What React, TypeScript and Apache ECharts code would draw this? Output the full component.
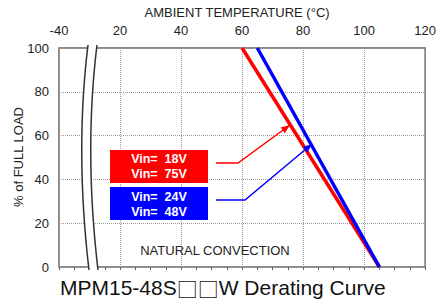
import React, { useEffect, useRef } from "react";
import * as echarts from "echarts";

// ---- data ----
const xTickValues = [0, 20, 40, 60, 80, 100, 120];
const xTickLabels = ["-40", "20", "40", "60", "80", "100", "120"];
const yTickValues = [0, 20, 40, 60, 80, 100];
const redCurve: [number, number][] = [
  [60, 100],
  [105, 0],
];
const blueCurve: [number, number][] = [
  [65, 100],
  [105, 0],
];
const redLegendLines = ["Vin=  18V", "Vin=  75V"];
const blueLegendLines = ["Vin=  24V", "Vin=  48V"];
const xAxisTitle = "AMBIENT TEMPERATURE (°C)";
const yAxisTitle = "% of FULL LOAD";
const noteText = "NATURAL CONVECTION";
const titleParts = ["MPM15-48S", "□□", "W Derating Curve"];

const FONT = "'Liberation Sans', Arial, 'DejaVu Sans', sans-serif";
const CJK = "'Noto Sans CJK SC', 'DejaVu Sans', sans-serif";

type P = [number, number];
function bezier(p0: P, p1: P, p2: P, p3: P, n: number): P[] {
  const pts: P[] = [];
  for (let i = 0; i <= n; i++) {
    const t = i / n;
    const a = (1 - t) ** 3, b = 3 * (1 - t) ** 2 * t, c = 3 * (1 - t) * t * t, d = t ** 3;
    pts.push([
      a * p0[0] + b * p1[0] + c * p2[0] + d * p3[0],
      a * p0[1] + b * p1[1] + c * p2[1] + d * p3[1],
    ]);
  }
  return pts;
}

function arrowHead(from: P, to: P, len = 9, half = 3.5): P[] {
  const dx = to[0] - from[0], dy = to[1] - from[1];
  const L = Math.hypot(dx, dy);
  const ux = dx / L, uy = dy / L;
  const bx = to[0] - ux * len, by = to[1] - uy * len;
  return [to, [bx - uy * half, by + ux * half], [bx + uy * half, by - ux * half]];
}

const keepSpaces = (s: string) => s.replace(/  /g, " \u00a0");

export default function App() {
  const ref = useRef<HTMLDivElement>(null);
  useEffect(() => {
    if (!ref.current) return;
    const chart = echarts.init(ref.current, undefined, { renderer: "svg" });

    const leftCurve = bezier([88, 45], [80, 110], [79, 185], [89, 270], 40);
    const rightCurve = bezier([97, 45], [89, 110], [88, 185], [98, 270], 40);
    const band = [...leftCurve, ...rightCurve.slice().reverse()];

    const redPath: P[] = [[216, 163], [238, 163], [290, 125]];
    const bluePath: P[] = [[216, 200], [245, 200], [312, 144]];

    const textEl = (text: string, x: number, y: number, extra: any = {}, el: any = {}) => ({
      type: "text",
      z: 110,
      ...el,
      style: {
        text,
        x,
        y,
        fill: "#fff",
        font: `bold 12.5px ${FONT}`,
        align: "center",
        verticalAlign: "middle",
        textAlign: "center",
        textVerticalAlign: "middle",
        ...extra,
      },
    });

    chart.setOption({
      animation: false,
      backgroundColor: "#fff",
      textStyle: { fontFamily: FONT },
      title: {
        text: `{a|${titleParts[0]}}{b|${titleParts[1]}}{a|${titleParts[2]}}`,
        left: 60,
        top: 276,
        padding: 0,
        textStyle: {
          fontSize: 21,
          fontWeight: "normal",
          color: "#111",
          fontFamily: FONT,
          lineHeight: 23,
          rich: {
            a: { fontSize: 21, color: "#111", fontFamily: FONT, lineHeight: 23 },
            b: { fontSize: 21, color: "#111", fontFamily: CJK, lineHeight: 23 },
          },
        },
      },
      grid: {
        left: 59,
        right: 8,
        top: 48,
        bottom: 35,
        show: true,
        borderColor: "#666",
        borderWidth: 1.5,
        backgroundColor: "transparent",
      },
      xAxis: {
        type: "value",
        position: "top",
        min: 0,
        max: 120,
        interval: 20,
        name: xAxisTitle,
        nameLocation: "middle",
        nameGap: 20,
        nameTextStyle: { fontSize: 13, color: "#222", padding: [0, 10, 0, 0] },
        axisLine: { show: false },
        axisTick: { show: true, inside: true, length: 3, lineStyle: { color: "#666" } },
        minorTick: { show: true, splitNumber: 4, length: 3, lineStyle: { color: "#666" } },
        axisLabel: {
          fontSize: 13,
          color: "#222",
          margin: 11,
          formatter: (v: number) => {
            const i = xTickValues.indexOf(v);
            return i >= 0 ? xTickLabels[i] : String(v);
          },
        },
        splitLine: { show: true, lineStyle: { type: "dotted", color: "#999", width: 1 } },
      },
      yAxis: {
        type: "value",
        min: yTickValues[0],
        max: yTickValues[yTickValues.length - 1],
        interval: 20,
        axisLine: { show: false },
        axisTick: { show: false },
        axisLabel: { fontSize: 13, color: "#222", margin: 10 },
        splitLine: { show: true, lineStyle: { type: "dotted", color: "#999", width: 1 } },
      },
      series: [
        {
          type: "line",
          data: redCurve,
          showSymbol: false,
          lineStyle: { color: "#ff0000", width: 3.5 },
          z: 3,
        },
        {
          type: "line",
          data: blueCurve,
          showSymbol: false,
          lineStyle: { color: "#0000ff", width: 3.5 },
          z: 4,
        },
      ],
      graphic: [
        { type: "polygon", z: 100, shape: { points: band }, style: { fill: "#fff", stroke: null } },
        { type: "polyline", z: 101, shape: { points: leftCurve }, style: { stroke: "#333", lineWidth: 1.5, fill: null } },
        { type: "polyline", z: 101, shape: { points: rightCurve }, style: { stroke: "#333", lineWidth: 1.5, fill: null } },
        { type: "rect", z: 105, shape: { x: 110, y: 150, width: 98, height: 33 }, style: { fill: "#ff0000" } },
        { type: "rect", z: 105, shape: { x: 110, y: 187, width: 98, height: 33 }, style: { fill: "#0000ff" } },
        textEl(keepSpaces(redLegendLines[0]), 159, 159),
        textEl(keepSpaces(redLegendLines[1]), 159, 174),
        textEl(keepSpaces(blueLegendLines[0]), 159, 197),
        textEl(keepSpaces(blueLegendLines[1]), 159, 212),
        { type: "polyline", z: 105, shape: { points: [redPath[0], redPath[1], redPath[2]] }, style: { stroke: "#ff0000", lineWidth: 1.5, fill: null } },
        { type: "polygon", z: 106, shape: { points: arrowHead(redPath[1], redPath[2]) }, style: { fill: "#ff0000" } },
        { type: "polyline", z: 105, shape: { points: [bluePath[0], bluePath[1], bluePath[2]] }, style: { stroke: "#0000ff", lineWidth: 1.5, fill: null } },
        { type: "polygon", z: 106, shape: { points: arrowHead(bluePath[1], bluePath[2]) }, style: { fill: "#0000ff" } },
        textEl(noteText, 215, 250, { fill: "#222", font: `13px ${FONT}` }),
        textEl(yAxisTitle, 0, 0, { fill: "#222", font: `13px ${FONT}` }, { x: 18, y: 157, rotation: Math.PI / 2 }),
      ],
    });
    return () => chart.dispose();
  }, []);
  return (
    <div
      ref={ref}
      style={{ position: "absolute", left: 0, top: 0, width: 439, height: 302 }}
    />
  );
}
